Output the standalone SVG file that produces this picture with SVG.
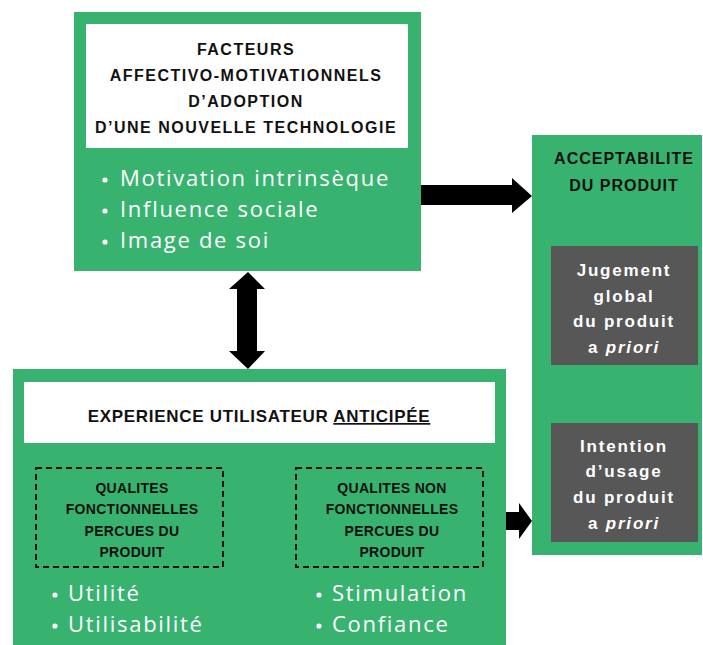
<svg xmlns="http://www.w3.org/2000/svg" width="703" height="645" viewBox="0 0 703 645">
<style>
.green{fill:#37b36f}
.white{fill:#ffffff}
.gray{fill:#575757}
.head{font-family:"Liberation Sans",Arial,sans-serif;font-weight:bold;fill:#111111;text-anchor:middle}
.bul{font-family:"Open Sans","Noto Sans",sans-serif;font-size:22px;letter-spacing:1.7px;fill:#ffffff}
.gt{font-family:"Liberation Sans",Arial,sans-serif;font-weight:bold;font-size:17px;letter-spacing:1.8px;fill:#ffffff;text-anchor:middle}
.dash{fill:none;stroke:#111111;stroke-width:2;stroke-dasharray:6 4}
.arrow{fill:#000000}
.dot{fill:#ffffff}
</style>
<rect width="703" height="645" fill="#ffffff"/>

<g id="facteurs">
  <rect class="green" x="74" y="12" width="347" height="259"/>
  <rect class="white" x="86" y="24" width="322" height="124"/>
  <text class="head" font-size="16" letter-spacing="1.5" x="246" y="55">FACTEURS</text>
  <text class="head" font-size="16" letter-spacing="1.5" x="246" y="81">AFFECTIVO-MOTIVATIONNELS</text>
  <text class="head" font-size="16" letter-spacing="1.5" x="246" y="107">D’ADOPTION</text>
  <text class="head" font-size="16" letter-spacing="1.5" x="246" y="133">D’UNE NOUVELLE TECHNOLOGIE</text>
  <circle class="dot" cx="105" cy="180" r="2.6"/>
  <circle class="dot" cx="105" cy="211" r="2.6"/>
  <circle class="dot" cx="105" cy="242" r="2.6"/>
  <text class="bul" x="120" y="186">Motivation intrinsèque</text>
  <text class="bul" x="120" y="217">Influence sociale</text>
  <text class="bul" x="120" y="248">Image de soi</text>
</g>

<g id="acceptabilite">
  <rect class="green" x="532" y="135" width="170" height="420"/>
  <text class="head" font-size="16" letter-spacing="1" x="624" y="164">ACCEPTABILITE</text>
  <text class="head" font-size="16" letter-spacing="1" x="624" y="191">DU PRODUIT</text>
</g>

<g id="jugement">
  <rect class="gray" x="551" y="246" width="147" height="119"/>
  <text class="gt" x="624" y="276">Jugement</text>
  <text class="gt" x="624" y="302">global</text>
  <text class="gt" x="624" y="327">du produit</text>
  <text class="gt" x="624" y="353">a <tspan font-style="italic">priori</tspan></text>
</g>

<g id="intention">
  <rect class="gray" x="551" y="423" width="147" height="119"/>
  <text class="gt" x="624" y="452">Intention</text>
  <text class="gt" x="624" y="477">d’usage</text>
  <text class="gt" x="624" y="503">du produit</text>
  <text class="gt" x="624" y="529">a <tspan font-style="italic">priori</tspan></text>
</g>

<g id="experience">
  <rect class="green" x="13" y="369" width="493" height="276"/>
  <rect class="white" x="24" y="382" width="471" height="61"/>
  <text class="head" font-size="17" letter-spacing="0.7" x="259" y="422">EXPERIENCE UTILISATEUR <tspan text-decoration="underline">ANTICIPÉE</tspan></text>
</g>

<g id="qualites-fonctionnelles">
  <rect class="dash" x="36" y="468" width="187" height="99"/>
  <text class="head" font-size="14" letter-spacing="0.3" x="132" y="493">QUALITES</text>
  <text class="head" font-size="14" letter-spacing="0.3" x="132" y="514">FONCTIONNELLES</text>
  <text class="head" font-size="14" letter-spacing="0.3" x="132" y="536">PERCUES DU</text>
  <text class="head" font-size="14" letter-spacing="0.3" x="132" y="557">PRODUIT</text>
  <circle class="dot" cx="55" cy="595" r="2.6"/>
  <circle class="dot" cx="55" cy="626" r="2.6"/>
  <text class="bul" x="68" y="601">Utilité</text>
  <text class="bul" x="68" y="632">Utilisabilité</text>
</g>

<g id="qualites-non-fonctionnelles">
  <rect class="dash" x="296" y="468" width="187" height="99"/>
  <text class="head" font-size="14" letter-spacing="0.3" x="392" y="493">QUALITES NON</text>
  <text class="head" font-size="14" letter-spacing="0.3" x="392" y="514">FONCTIONNELLES</text>
  <text class="head" font-size="14" letter-spacing="0.3" x="392" y="536">PERCUES DU</text>
  <text class="head" font-size="14" letter-spacing="0.3" x="392" y="557">PRODUIT</text>
  <circle class="dot" cx="319" cy="595" r="2.6"/>
  <circle class="dot" cx="319" cy="626" r="2.6"/>
  <text class="bul" x="332" y="601">Stimulation</text>
  <text class="bul" x="332" y="632">Confiance</text>
</g>

<g id="connectors">
  <polygon class="arrow" points="421,185 512,185 512,178 532,196 512,213 512,205 421,205"/>
  <polygon class="arrow" points="248,272 265,289 257,289 257,351 265,351 248,369 229,351 237,351 237,289 229,289"/>
  <polygon class="arrow" points="506,512 519,512 519,503 532,521 519,539 519,530 506,530"/>
</g>
</svg>
